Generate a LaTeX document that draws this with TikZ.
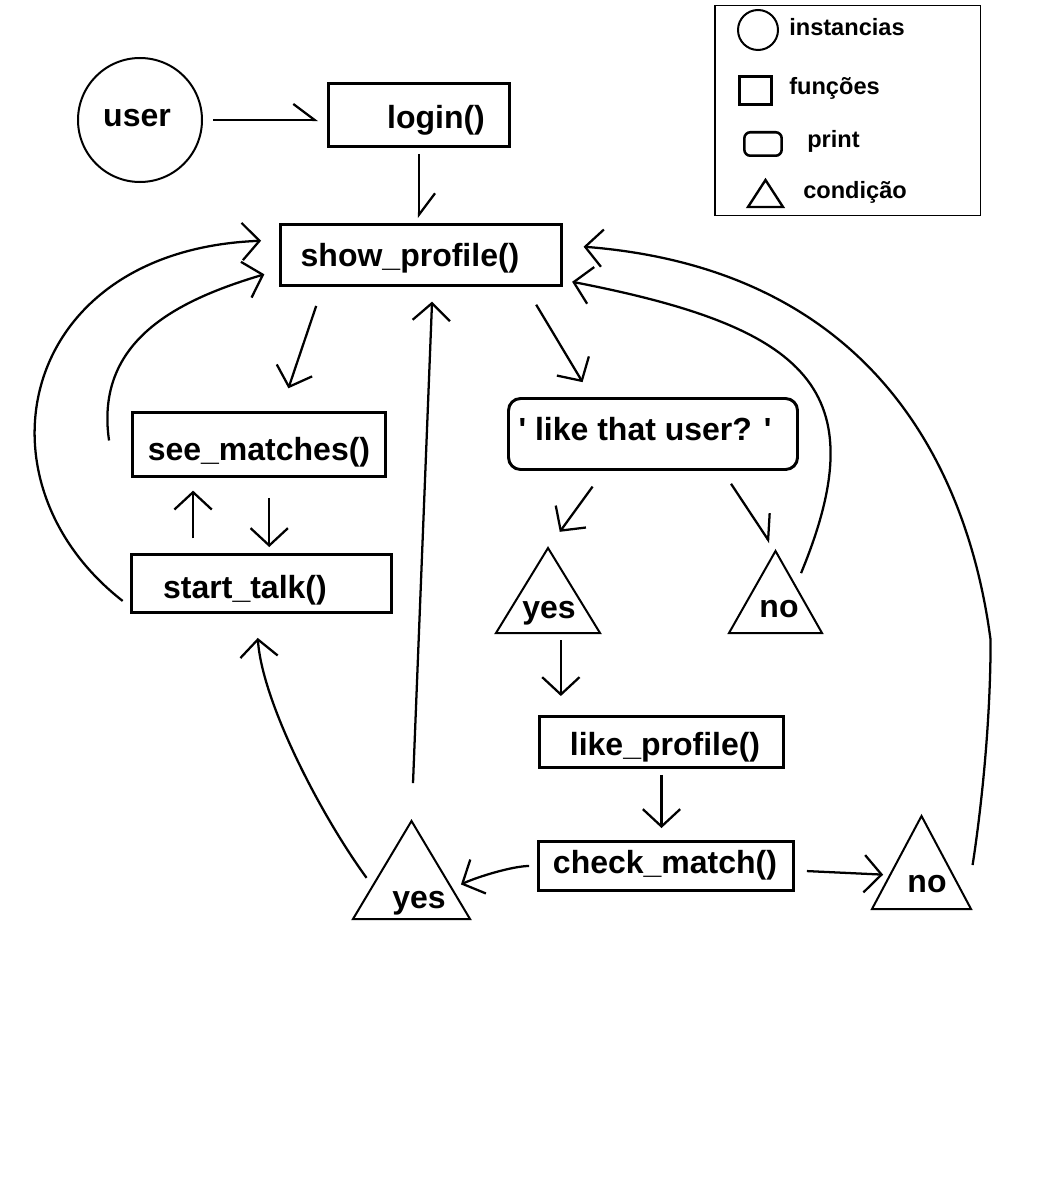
\documentclass[tikz,border=0pt]{standalone}
\usepackage{fontspec}
\setmainfont{Liberation Sans}[Ligatures=TeXOff]
\usetikzlibrary{arrows.meta,calc}

\begin{document}
\begin{tikzpicture}[x=0.75pt,y=0.75pt,yscale=-1,xscale=1,
  func/.style={draw, line width=2.2pt, inner sep=0pt},
  prnt/.style={func, rounded corners=9pt},
  inst/.style={draw, circle, line width=1.5pt, inner sep=0pt},
  cond/.style={inner sep=0pt, outer sep=0pt},
  lbl/.style={font=\fontsize{24}{28}\selectfont\bfseries, inner sep=0pt, anchor=base},
  leglbl/.style={font=\fontsize{17.7}{21}\selectfont\bfseries, inner sep=0pt, anchor=base west},
  conn/.style={line width=1.7pt, -{Straight Barb[length=13pt,width=28pt]}},
  harp/.style={line width=1.7pt, -{Straight Barb[harpoon,length=16pt,width=24pt]}}
]
\useasboundingbox (0,0) rectangle (1051,1177);

%Shape: Circle
\node [inst, minimum size=93pt] (user) at (140,120) {};
%Shape: Rectangle
\node [func, minimum width=135.75pt, minimum height=47.25pt] (login) at (419,115) {};
%Shape: Rectangle
\node [func, minimum width=210.75pt, minimum height=45.75pt] (showprofile) at (421,255) {};
%Shape: Rectangle
\node [func, minimum width=189.75pt, minimum height=48pt] (seematches) at (259,444.5) {};
%Shape: Rectangle
\node [func, minimum width=195pt, minimum height=43.5pt] (starttalk) at (261.5,583.5) {};
%Shape: Rounded Rect
\node [prnt, minimum width=216.75pt, minimum height=53.25pt] (likeuser) at (653,434) {};
%Shape: Rectangle
\node [func, minimum width=183pt, minimum height=38.25pt] (likeprofile) at (661.5,742) {};
%Shape: Rectangle
\node [func, minimum width=191.25pt, minimum height=36.75pt] (checkmatch) at (666,866) {};
%Shape: Triangle
\node [cond, minimum width=78pt, minimum height=63.75pt] (yesA) at (548,590.5) {};
\node [cond, minimum width=69.75pt, minimum height=61.5pt] (noA) at (775.5,592) {};
\node [cond, minimum width=87.75pt, minimum height=73.5pt] (yesB) at (411.5,870) {};
\node [cond, minimum width=74.25pt, minimum height=69.75pt] (noB) at (921.5,862.5) {};
\foreach \t in {yesA,noA,yesB,noB}
  \draw [line width=1.5pt] (\t.north) -- (\t.south east) -- (\t.south west) -- cycle ;

%Legend
\node [draw, line width=1pt, inner sep=0pt, minimum width=199pt, minimum height=157pt] (legend) at (847.5,110.5) {};
\node [inst, minimum size=30pt] (legcircle) at (758,30) {};
\node [func, minimum width=24pt, minimum height=21pt] (legsquare) at (755.5,90.5) {};
\node [func, line width=1.9pt, rounded corners=4.5pt, minimum width=28pt, minimum height=17.6pt] (legprint) at (763,144) {};
\node [cond, minimum width=26.25pt, minimum height=20.25pt] (legtri) at (765.5,193.5) {};
\draw [line width=1.8pt] (legtri.north) -- (legtri.south east) -- (legtri.south west) -- cycle ;

%Straight Lines
\draw [harp, shorten <=7.5pt, shorten >=6.75pt] (user.east) -- (user.east -| login.west) ;
%Straight Lines
\draw [harp, shorten <=4.5pt, shorten >=3.75pt] (login.south) -- (login.south |- showprofile.north) ;
%Straight Lines
\draw [conn, shorten <=15pt, shorten >=18pt] (showprofile.198) -- (seematches.57) ;
%Straight Lines
\draw [conn, shorten <=15pt, shorten >=4.5pt] (seematches.-73) -- (seematches.-73 |- starttalk.north) ;
%Straight Lines
\draw [conn, shorten <=11pt, shorten >=9.5pt] (starttalk.156) -- (starttalk.156 |- seematches.south) ;
%Curve Lines
\draw [conn, shorten <=7pt, shorten >=13.5pt] (starttalk.190) .. controls +(-161.5,-126) and +(-260.5,10) .. (showprofile.174) ;
%Curve Lines
\draw [conn, shorten >=11.5pt] ($(seematches.west)+(-22,-4)$) .. controls +(-14.5,-100.5) and +(-100.5,30) .. (showprofile.186) ;
%Curve Lines
\draw [conn, shorten >=18pt] ($(yesB.north)!0.58!(yesB.south west)+(-11,0)$) .. controls +(-46,-63) and +(6,88) .. (starttalk.-100) ;
%Straight Lines
\draw [conn, shorten <=28.5pt, shorten >=11pt] (yesB.north) -- (showprofile.-70) ;
%Straight Lines
\draw [conn, shorten <=15.5pt, shorten >=13pt] (showprofile.-17) -- (likeuser.149) ;
%Straight Lines
\draw [conn, shorten <=14.5pt, shorten >=15pt] (likeuser.217) -- (yesA.north) ;
%Straight Lines
\draw [harp, shorten <=11.5pt, shorten >=7.5pt] (likeuser.-28) -- (noA.north) ;
%Curve Lines
\draw [conn, shorten >=7pt] ($(noA.north)!0.27!(noA.south east)+(13,0)$) .. controls +(76,-184) and +(245,47.5) .. (showprofile.-10) ;
%Curve Lines
\draw [conn, shorten >=15.5pt] ($(noB.north)!0.527!(noB.south east)+(25,0)$) .. controls +(7,-45) and +(0,90) .. ++(18,-225) .. controls +(-21,-160) and +(318.5,25) .. (showprofile.4) ;
%Straight Lines
\draw [conn, shorten <=5.25pt, shorten >=14.25pt] (likeprofile.165 |- yesA.south) -- (likeprofile.165) ;
%Straight Lines
\draw [conn, shorten <=4.5pt, shorten >=9pt] (likeprofile.south) -- (likeprofile.south |- checkmatch.north) ;
%Curve Lines
\draw [conn, shorten <=6pt, shorten >=7.5pt] (checkmatch.west) .. controls +(-24,0) and +(26,-12) .. ($(yesB.north)!0.69!(yesB.south east)$) ;
%Straight Lines
\draw [conn, shorten <=9pt, shorten >=5.25pt] (checkmatch.-2) -- ($(noB.north)!0.634!(noB.south west)$) ;

% Text Node
\node [lbl] (userlbl) at (137,127) {user};
% Text Node
\node [lbl] (loginlbl) at (436,129) {login()};
% Text Node
\node [lbl] (showlbl) at (410,266) {show\_profile()};
% Text Node
\node [lbl] (seelbl) at (259,460) {see\_matches()};
% Text Node
\node [lbl] (talklbl) at (245,598) {start\_talk()};
% Text Node
\node [lbl] (likelbl) at (645,440) {' like that user? '};
% Text Node
\node [lbl] (yesAlbl) at (549,618) {yes};
% Text Node
\node [lbl] (noAlbl) at (779,617) {no};
% Text Node
\node [lbl] (likeplbl) at (665,755) {like\_profile()};
% Text Node
\node [lbl] (checklbl) at (665,873) {check\_match()};
% Text Node
\node [lbl] (yesBlbl) at (419,908) {yes};
% Text Node
\node [lbl] (noBlbl) at (927,892) {no};
% Text Node
\node [leglbl] (instlbl) at (789,36) {instancias};
% Text Node
\node [leglbl] (funclbl) at (789,95) {funções};
% Text Node
\node [leglbl] (prntlbl) at (807,148) {print};
% Text Node
\node [leglbl] (condlbl) at (803,198) {condição};

\end{tikzpicture}
\end{document}
